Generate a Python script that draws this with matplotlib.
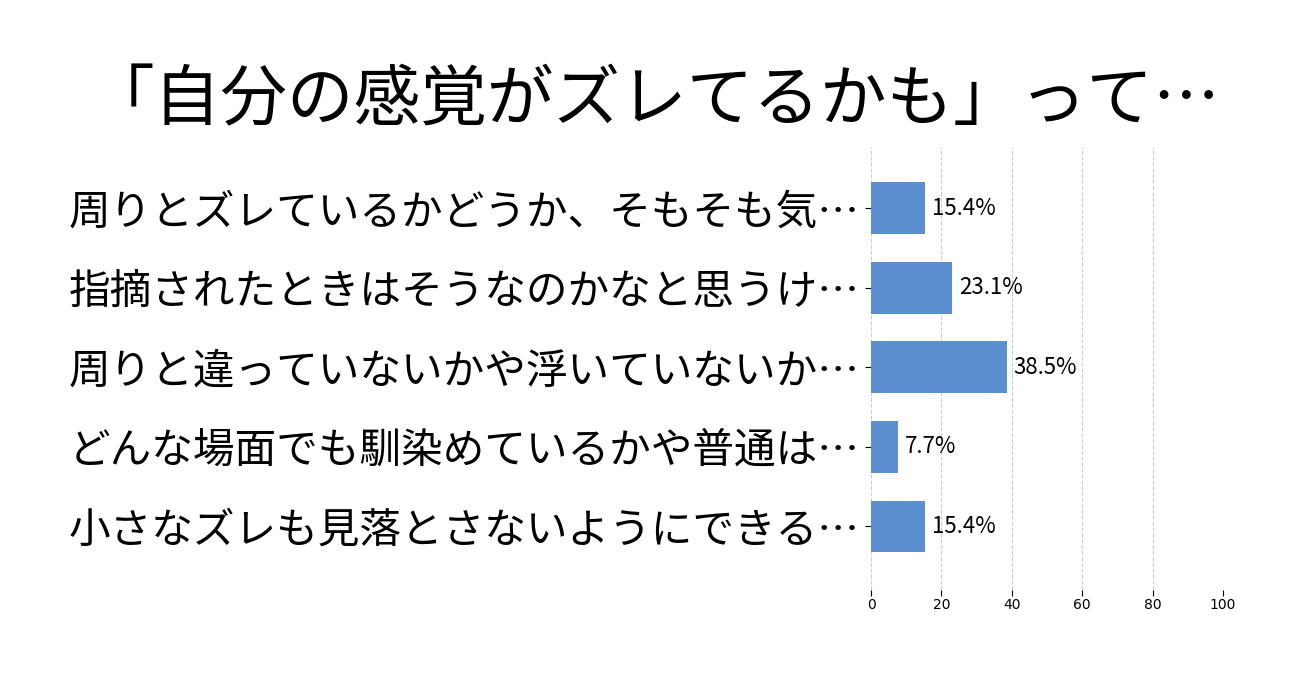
import matplotlib
matplotlib.use("Agg")
import matplotlib.pyplot as plt

plt.rcParams['font.family'] = ['Noto Sans CJK JP', 'DejaVu Sans']

title = "「自分の感覚がズレてるかも」って…"
categories = [
    "周りとズレているかどうか、そもそも気…",
    "指摘されたときはそうなのかなと思うけ…",
    "周りと違っていないかや浮いていないか…",
    "どんな場面でも馴染めているかや普通は…",
    "小さなズレも見落とさないようにできる…",
]
values = [15.4, 23.1, 38.5, 7.7, 15.4]
xticks = [0, 20, 40, 60, 80, 100]

fig = plt.figure(figsize=(13.06, 6.83), dpi=100)
ax = fig.add_axes([0.667, 0.1362, 0.2694, 0.6486])

ypos = list(range(len(categories)))
ax.barh(ypos, values, height=0.65, color="#5B8FD0", zorder=3)
for y, v in zip(ypos, values):
    ax.text(v + 2, y, f"{v}%", va="center", ha="left", fontsize=16, color="black")

ax.set_xlim(0, 100)
ax.set_ylim(4.8, -0.77)
ax.set_yticks(ypos)
ax.set_yticklabels(categories, fontsize=30)
ax.set_xticks(xticks)
ax.set_xticklabels([str(t) for t in xticks], fontsize=10, family='DejaVu Sans')
ax.tick_params(axis='y', length=4, pad=4)
ax.tick_params(axis='x', length=4, pad=2)
for s in ax.spines.values():
    s.set_visible(False)
ax.grid(axis='x', linestyle='--', color='#cccccc', linewidth=0.8, zorder=0)
ax.set_axisbelow(True)

fig.text(0.5005, 0.852, title, ha='center', va='center', fontsize=48)

fig.savefig("out.png", dpi=100)
